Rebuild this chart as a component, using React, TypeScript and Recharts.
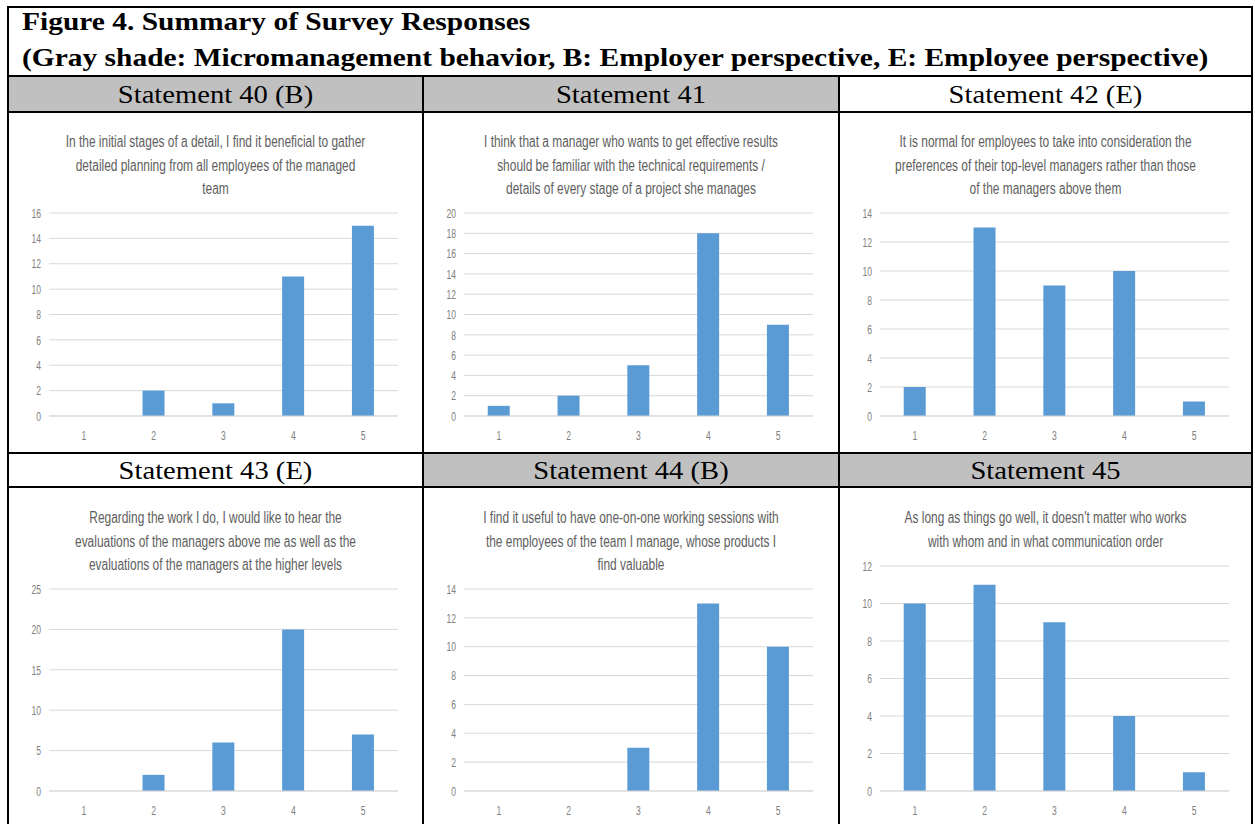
import React from 'react';
import { BarChart, Bar, XAxis, YAxis, CartesianGrid } from 'recharts';

// ---------- data ----------
const categories = ['1', '2', '3', '4', '5'];

const s40Values = [0, 2, 1, 11, 15];
const s41Values = [1, 2, 5, 18, 9];
const s42Values = [2, 13, 9, 10, 1];
const s43Values = [0, 2, 6, 20, 7];
const s44Values = [0, 0, 3, 13, 10];
const s45Values = [10, 11, 9, 4, 1];

const s40Ticks = [0, 2, 4, 6, 8, 10, 12, 14, 16];
const s41Ticks = [0, 2, 4, 6, 8, 10, 12, 14, 16, 18, 20];
const s42Ticks = [0, 2, 4, 6, 8, 10, 12, 14];
const s43Ticks = [0, 5, 10, 15, 20, 25];
const s44Ticks = [0, 2, 4, 6, 8, 10, 12, 14];
const s45Ticks = [0, 2, 4, 6, 8, 10, 12];

const figureTitle = 'Figure 4. Summary of Survey Responses';
const figureSubtitle =
  '(Gray shade: Micromanagement behavior, B: Employer perspective, E: Employee perspective)';

const headers = [
  'Statement 40 (B)',
  'Statement 41',
  'Statement 42 (E)',
  'Statement 43 (E)',
  'Statement 44 (B)',
  'Statement 45',
];

const chartTitles = [
  [
    'In the initial stages of a detail, I find it beneficial to gather',
    'detailed planning from all employees of the managed',
    'team',
  ],
  [
    'I think that a manager who wants to get effective results',
    'should be familiar with the technical requirements /',
    'details of every stage of a project she manages',
  ],
  [
    'It is normal for employees to take into consideration the',
    'preferences of their top-level managers rather than those',
    'of the managers above them',
  ],
  [
    'Regarding the work I do, I would like to hear the',
    'evaluations of the managers above me as well as the',
    'evaluations of the managers at the higher levels',
  ],
  [
    'I find it useful to have one-on-one working sessions with',
    'the employees of the team I manage, whose products I',
    'find valuable',
  ],
  [
    "As long as things go well, it doesn't matter who works",
    'with whom and in what communication order',
  ],
];

const seriesValues = [s40Values, s41Values, s42Values, s43Values, s44Values, s45Values];
const seriesTicks = [s40Ticks, s41Ticks, s42Ticks, s43Ticks, s44Ticks, s45Ticks];
const grayHeader = [true, true, false, false, true, true];

// ---------- styles ----------
const BAR_COLOR = '#5B9BD5';
const GRID_COLOR = '#d9d9d9';
const TICK_COLOR = '#808080';
const TITLE_COLOR = '#5e5e5e';
const SANS = "'Liberation Sans', Arial, sans-serif";
const SERIF = "'Liberation Serif', 'Times New Roman', serif";
const SQUEEZE = 0.66;

const colLeft = [9, 424, 840];
const colRight = [422, 838, 1251];
const plotLeft = [49, 464, 880];
const plotRight = [398, 813, 1229];
const rowTop = [113, 488];
const rowBottom = [452, 824];

const YTick = (props: any) => {
  const { x, y, payload } = props;
  return (
    <text
      transform={`translate(${x - 8},${y}) scale(${SQUEEZE},1)`}
      textAnchor="end"
      dominantBaseline="central"
      fontSize={13}
      fill={TICK_COLOR}
      fontFamily={SANS}
    >
      {payload.value}
    </text>
  );
};

const XTick = (props: any) => {
  const { x, y, payload } = props;
  return (
    <text
      transform={`translate(${x},${y + 19}) scale(${SQUEEZE},1)`}
      textAnchor="middle"
      dominantBaseline="central"
      fontSize={13}
      fill={TICK_COLOR}
      fontFamily={SANS}
    >
      {payload.value}
    </text>
  );
};

function Panel({ index }: { index: number }) {
  const col = index % 3;
  const row = Math.floor(index / 3);
  const values = seriesValues[index];
  const ticks = seriesTicks[index];
  const lines = chartTitles[index];
  const data = categories.map((c, i) => ({ cat: c, value: values[i] }));

  const top = rowTop[row];
  const bottom = rowBottom[row];
  const titleLineH = 23.5;
  const titleFirstCenter = row === 0 ? 142 : 518;
  const plotTop = row === 0 ? 213 : lines.length === 3 ? 589 : 566;
  const plotBottom = row === 0 ? 416 : 791;
  const xAxisH = 30;

  const left = colLeft[col];
  const chartW = plotRight[col] + 10 - left;
  const chartH = bottom - top;
  const cellW = colRight[col] - left;

  const titleScale = 0.745;

  return (
    <>
      <div
        style={{
          position: 'absolute',
          left,
          top: titleFirstCenter - titleLineH / 2,
          width: cellW / titleScale,
          transform: `scaleX(${titleScale})`,
          transformOrigin: 'left top',
          fontFamily: SANS,
          fontSize: 16,
          color: TITLE_COLOR,
          textAlign: 'center',
          lineHeight: `${titleLineH}px`,
          whiteSpace: 'nowrap',
        }}
      >
        {lines.map((l, i) => (
          <div key={i}>{l}</div>
        ))}
      </div>
      <div style={{ position: 'absolute', left, top }}>
        <BarChart
          width={chartW}
          height={chartH}
          data={data}
          margin={{ top: plotTop - top, right: 10, bottom: bottom - plotBottom - xAxisH, left: 0 }}
          barCategoryGap="34%"
        >
          <CartesianGrid vertical={false} stroke={GRID_COLOR} strokeWidth={1} />
          <XAxis
            dataKey="cat"
            height={xAxisH}
            axisLine={{ stroke: GRID_COLOR }}
            tickLine={false}
            tickSize={0}
            tickMargin={0}
            tick={<XTick />}
            interval={0}
          />
          <YAxis
            width={plotLeft[col] - left}
            domain={[0, ticks[ticks.length - 1]]}
            ticks={ticks}
            axisLine={false}
            tickLine={false}
            tickSize={0}
            tickMargin={0}
            tick={<YTick />}
            interval={0}
          />
          <Bar dataKey="value" fill={BAR_COLOR} isAnimationActive={false} />
        </BarChart>
      </div>
    </>
  );
}

const hLine = (y: number, x1: number, x2: number, key: string) => (
  <div key={key} style={{ position: 'absolute', left: x1, top: y, width: x2 - x1, height: 2, background: '#000' }} />
);
const vLine = (x: number, y1: number, y2: number, key: string) => (
  <div key={key} style={{ position: 'absolute', left: x, top: y1, width: 2, height: y2 - y1, background: '#000' }} />
);

export default function App() {
  const headerRows = [
    { top: 77, bottom: 111 },
    { top: 454, bottom: 486 },
  ];
  const headerScale = 1.1;
  const titleScale = 1.178;
  return (
    <div
      style={{
        position: 'absolute',
        left: 0,
        top: 0,
        width: 1255,
        height: 824,
        overflow: 'hidden',
        background: '#fff',
      }}
    >
      {/* header gray fills and texts */}
      {headers.map((h, i) => {
        const col = i % 3;
        const row = Math.floor(i / 3);
        const hr = headerRows[row];
        const left = colLeft[col];
        const width = colRight[col] - left;
        return (
          <div
            key={h}
            style={{
              position: 'absolute',
              left,
              top: hr.top,
              width,
              height: hr.bottom - hr.top,
              background: grayHeader[i] ? '#c0c0c0' : '#fff',
            }}
          >
            <div
              style={{
                width: width / headerScale,
                transform: `scaleX(${headerScale})`,
                transformOrigin: 'left top',
                fontFamily: SERIF,
                fontSize: 26,
                lineHeight: `${hr.bottom - hr.top + 2}px`,
                textAlign: 'center',
                color: '#000',
                whiteSpace: 'nowrap',
              }}
            >
              {h}
            </div>
          </div>
        );
      })}

      {/* figure title */}
      <div
        style={{
          position: 'absolute',
          left: 22,
          top: 4,
          transform: `scaleX(${titleScale})`,
          transformOrigin: 'left top',
          fontFamily: SERIF,
          fontWeight: 'bold',
          fontSize: 25,
          lineHeight: '36px',
          color: '#000',
          whiteSpace: 'nowrap',
        }}
      >
        <div>{figureTitle}</div>
        <div>{figureSubtitle}</div>
      </div>

      {[0, 1, 2, 3, 4, 5].map((i) => (
        <Panel key={i} index={i} />
      ))}

      {/* table borders */}
      {hLine(6, 7, 1253, 'top')}
      {hLine(75, 7, 1253, 'h1')}
      {hLine(111, 7, 1253, 'h2')}
      {hLine(452, 7, 1253, 'h3')}
      {hLine(486, 7, 1253, 'h4')}
      {vLine(7, 6, 824, 'vl')}
      {vLine(1251, 6, 824, 'vr')}
      {vLine(422, 75, 824, 'v1')}
      {vLine(838, 75, 824, 'v2')}
    </div>
  );
}
